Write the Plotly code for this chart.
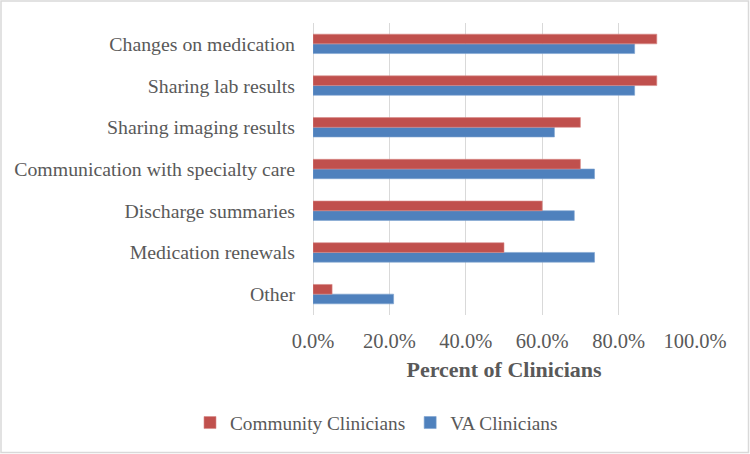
import plotly.graph_objects as go

categories = ["Other", "Medication renewals", "Discharge summaries",
              "Communication with specialty care", "Sharing imaging results",
              "Sharing lab results", "Changes on medication"]
community = [0.05, 0.50, 0.60, 0.70, 0.70, 0.90, 0.90]
va = [0.211, 0.737, 0.684, 0.737, 0.632, 0.842, 0.842]
tick_vals = [0, 0.2, 0.4, 0.6, 0.8, 1.0]
tick_text = ["0.0%", "20.0%", "40.0%", "60.0%", "80.0%", "100.0%"]

FONT = "Liberation Serif"
GREY = "#595959"

fig = go.Figure()
fig.add_trace(go.Bar(y=categories, x=va, orientation="h", name="VA Clinicians",
                     marker=dict(color="#4F81BD", line=dict(color="#7EA3D0", width=0.6)),
                     legendrank=2))
fig.add_trace(go.Bar(y=categories, x=community, orientation="h", name="Community Clinicians",
                     marker=dict(color="#C0504D", line=dict(color="#D88C8A", width=0.6)),
                     legendrank=1))

PW = 695 - 313
PH = 315 - 23

fig.update_layout(
    width=750, height=454,
    margin=dict(l=313, r=750 - 695, t=23, b=139, autoexpand=False),
    paper_bgcolor="white", plot_bgcolor="white",
    barmode="group", bargap=0.535, bargroupgap=0,
    font=dict(family=FONT, color=GREY, size=19),
    showlegend=True,
    legend=dict(orientation="h", xref="container", yref="container",
                x=0.502, xanchor="center", y=1 - 423 / 454, yanchor="middle",
                font=dict(family=FONT, size=19.3, color=GREY),
                itemwidth=30, tracegroupgap=0),
    xaxis=dict(range=[0, 1.0], tickvals=tick_vals, ticktext=tick_text,
               automargin=False,
               showgrid=True, gridcolor="#D9D9D9", gridwidth=1,
               zeroline=True, zerolinecolor="#D9D9D9", zerolinewidth=1,
               showline=False, ticks="", ticklabelstandoff=11,
               tickfont=dict(family=FONT, size=20.5, color=GREY),
               title=dict(text="<b>Percent of Clinicians</b>", standoff=11,
                          font=dict(family=FONT, size=22, color=GREY))),
    yaxis=dict(showgrid=False, showline=False, ticks="", ticklabelstandoff=17,
               automargin=False,
               tickfont=dict(family=FONT, size=19.8, color=GREY)),
    shapes=[dict(type="rect", xref="paper", yref="paper",
                 x0=(1 - 313) / PW, x1=(748.5 - 313) / PW,
                 y0=-(452.5 - 315) / PH, y1=1 + 22 / PH,
                 line=dict(color="#D9D9D9", width=1.5), fillcolor="rgba(0,0,0,0)",
                 layer="below")],
)

fig.write_html("out.html", config={"displayModeBar": False},
               post_script="document.body.style.margin='0';")
